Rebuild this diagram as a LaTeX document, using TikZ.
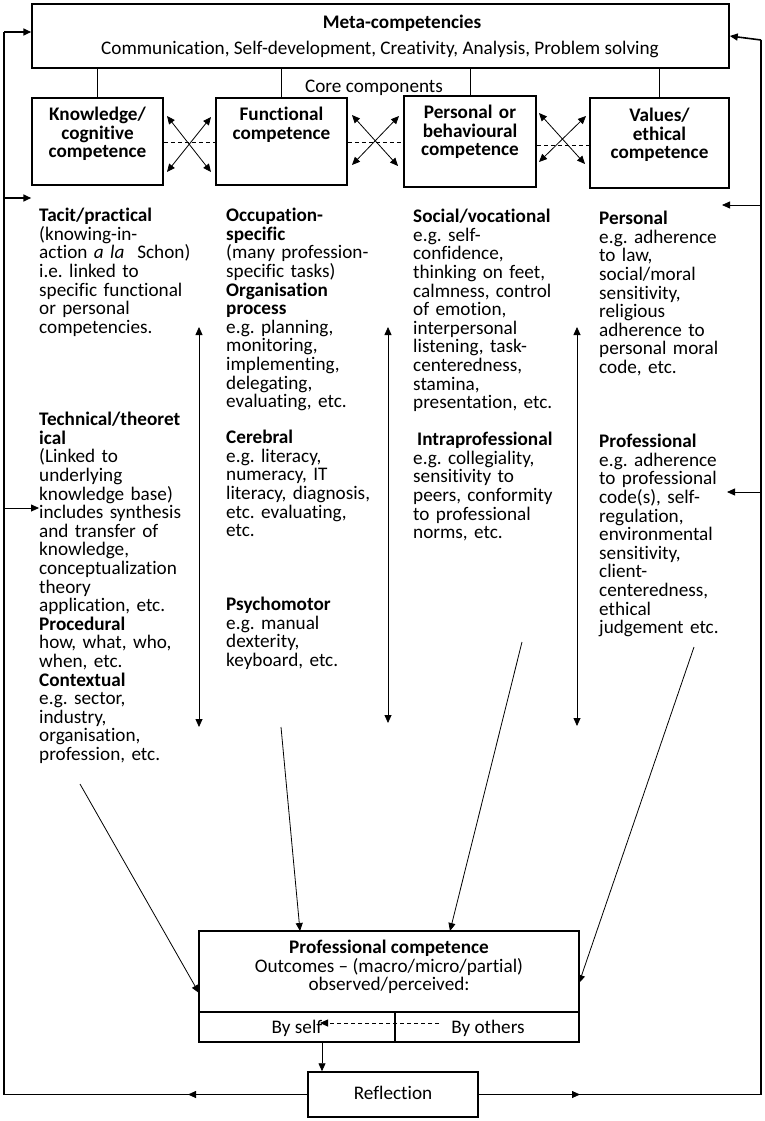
\documentclass[tikz,border=0pt]{standalone}
\usepackage{fontspec}
\setmainfont{Carlito}[Ligatures=NoCommon]
\usetikzlibrary{arrows.meta}
\newcommand\dfont{\fontsize{19.2}{18.6}\selectfont\lineskiplimit=-30pt\frenchspacing\relax}
\begin{document}
\begin{tikzpicture}[x=1pt,y=-1pt,
  >={Triangle[length=8pt,width=7pt]},
  box/.style={draw, line width=1.5pt, inner sep=0pt},
  fb/.style={line width=1.6pt},
  conn/.style={line width=0.8pt},
  dsh/.style={line width=0.8pt, dash pattern=on 4pt off 3pt},
  txt/.style={font=\dfont, inner sep=0pt, align=left, anchor=north west, text width=#1},
  coretxt/.style={font=\dfont\bfseries, inner sep=0pt, align=center, anchor=north, text width=138pt},
  lbl/.style={font=\dfont, inner sep=0pt, anchor=base}]
\useasboundingbox (0,0) rectangle (765,1121);

% top box
\node[box, minimum width=697pt, minimum height=64pt] (meta) at (380.5,36) {};
\node[lbl, font=\dfont\bfseries] (mtitle) at (402,29) {Meta-competencies};
\node[lbl] (mlist) at (380,55) {Communication, Self-development, Creativity, Analysis, Problem solving};
\node[lbl] (core) at (374,93) {Core components};

% core boxes
\node[box, minimum width=131pt, minimum height=87pt] (kn) at (97.5,141.5) {};
\node[box, minimum width=131pt, minimum height=87pt] (fc) at (281.5,141.5) {};
\node[box, minimum width=132pt, minimum height=91pt] (pb) at (470,141.5) {};
\node[box, minimum width=139pt, minimum height=90pt] (ve) at (659.5,143) {};
\node[coretxt] (knt) at (97.5,107) {\strut Knowledge/\\cognitive\\competence};
\node[coretxt] (fct) at (281.5,107) {\strut Functional\\competence};
\node[coretxt] (pbt) at (470,105) {\strut Personal or\\behavioural\\competence};
\node[coretxt] (vet) at (659.5,108) {\strut Values/\\ethical\\competence};

\foreach \n in {kn,fc,pb,ve}{\draw[conn] (\n.north) -- (\n.north |- meta.south);}

% crossed arrows and dashed links
\coordinate (a1) at (167,116); \coordinate (a2) at (211,172);
\coordinate (a3) at (211,117); \coordinate (a4) at (167,172);
\draw[conn,<->] (a1) -- (a2); \draw[conn,<->] (a3) -- (a4);
\draw[dsh] (kn.east |- 0,142) -- (fc.west |- 0,142);
\coordinate (b1) at (352,115); \coordinate (b2) at (398,166);
\coordinate (b3) at (399,116); \coordinate (b4) at (352,165);
\draw[conn,<->] (b1) -- (b2); \draw[conn,<->] (b3) -- (b4);
\draw[dsh] (fc.east |- 0,142) -- (pb.west |- 0,142);
\coordinate (e1) at (539,113); \coordinate (e2) at (585,164);
\coordinate (e3) at (586,116); \coordinate (e4) at (539,162);
\draw[conn,<->] (e1) -- (e2); \draw[conn,<->] (e3) -- (e4);
\draw[dsh] (pb.east |- 0,145) -- (ve.west |- 0,145);

% column texts
\node[txt=170pt] (c1a) at (39,208) {\strut\textbf{Tacit/practical}\\(knowing-in-\\action \textit{a la}\ \ Schon)\\i.e. linked to\\specific functional\\or personal\\competencies.};
\node[txt=170pt] (c1b) at (39,412) {\strut\textbf{Technical/theoret}\\\textbf{ical}\\(Linked to\\underlying\\knowledge base)\\includes synthesis\\and transfer of\\knowledge,\\conceptualization\\theory\\application, etc.\\\textbf{Procedural}\\how, what, who,\\when, etc.\\\textbf{Contextual}\\e.g. sector,\\industry,\\organisation,\\profession, etc.};
\node[txt=170pt] (c2a) at (226,208) {\strut\textbf{Occupation-}\\\textbf{specific}\\(many profession-\\specific tasks)\\\textbf{Organisation}\\\textbf{process}\\e.g. planning,\\monitoring,\\implementing,\\delegating,\\evaluating, etc.};
\node[txt=170pt] (c2b) at (226,430) {\strut\textbf{Cerebral}\\e.g. literacy,\\numeracy, IT\\literacy, diagnosis,\\etc. evaluating,\\etc.};
\node[txt=170pt] (c2c) at (226,597) {\strut\textbf{Psychomotor}\\e.g. manual\\dexterity,\\keyboard, etc.};
\node[txt=170pt] (c3a) at (413,209) {\strut\textbf{Social/vocational}\\e.g. self-\\confidence,\\thinking on feet,\\calmness, control\\of emotion,\\interpersonal\\listening, task-\\centeredness,\\stamina,\\presentation, etc.};
\node[txt=170pt] (c3b) at (413,432) {\strut\hspace*{4pt}\textbf{Intraprofessional}\\e.g. collegiality,\\sensitivity to\\peers, conformity\\to professional\\norms, etc.};
\node[txt=160pt] (c4a) at (599,211) {\strut\textbf{Personal}\\e.g. adherence\\to law,\\social/moral\\sensitivity,\\religious\\adherence to\\personal moral\\code, etc.};
\node[txt=160pt] (c4b) at (599,434) {\strut\textbf{Professional}\\e.g. adherence\\to professional\\code(s), self-\\regulation,\\environmental\\sensitivity,\\client-\\centeredness,\\ethical\\judgement etc.};

% vertical double arrows
\coordinate (v1t) at (199,327); \coordinate (v1b) at (199,727);
\coordinate (v2t) at (388,327); \coordinate (v2b) at (388,723);
\coordinate (v3t) at (577,327); \coordinate (v3b) at (577,726);
\draw[conn,<->] (v1t) -- (v1b);
\draw[conn,<->] (v2t) -- (v2b);
\draw[conn,<->] (v3t) -- (v3b);

% bottom boxes
\node[box, minimum width=380pt, minimum height=81pt] (pc) at (389,971.5) {};
\node[font=\dfont, inner sep=0pt, align=center, anchor=north] (pct) at (389,940) {\strut\textbf{Professional competence}\\Outcomes -- (macro/micro/partial)\\observed/perceived:};
\node[box, minimum width=196pt, minimum height=30pt] (bs) at (297,1027) {};
\node[box, minimum width=184pt, minimum height=30pt] (bo) at (487,1027) {};
\node[lbl] (bst) at (297,1033) {By self};
\node[lbl] (bot) at (488,1033) {By others};
\node[box, minimum width=170pt, minimum height=45pt] (refl) at (393,1094.5) {};
\node[lbl] (reflt) at (393,1099) {Reflection};

\coordinate (ds) at (439,1023); \coordinate (de) at (320,1023);
\draw[dsh,->] (ds) -- (de);
\coordinate (bsr) at (322,1042);
\draw[conn,->] (bsr) -- (bsr |- refl.north);

% diagonal arrows into professional competence
\coordinate (d1s) at (80,784);  \coordinate (d1e) at (199,993);
\coordinate (d2s) at (281,727); \coordinate (d2e) at (300,931);
\coordinate (d3s) at (522,642); \coordinate (d3e) at (450,931);
\coordinate (d4s) at (694,647); \coordinate (d4e) at (579,983);
\draw[conn,->] (d1s) -- (d1e);
\draw[conn,->] (d2s) -- (d2e);
\draw[conn,->] (d3s) -- (d3e);
\draw[conn,->] (d4s) -- (d4e);

% feedback loops
\coordinate (L1) at (4,32); \coordinate (L2) at (4,198); \coordinate (L3) at (4,508);
\coordinate (LB) at (4,1094.5); \coordinate (lmid) at (188,1094.5);
\draw[fb] (refl.west) -- (LB) -- (L1);
\draw[fb,->] (L1) -- (meta.west |- L1);
\draw[fb,->] (L2) -- (kn.west |- L2);
\draw[conn,->] (L3) -- (c1b.west |- L3);
\draw[conn,->] (refl.west) -- (lmid);

\coordinate (R1) at (761,40); \coordinate (R2) at (761,205); \coordinate (R3) at (761,492);
\coordinate (RB) at (761,1094.5); \coordinate (rmid) at (580,1094.5);
\coordinate (R2t) at (722,205); \coordinate (R3t) at (727,492);
\draw[fb] (refl.east) -- (RB) -- (R1);
\draw[fb,->] (R1) -- (meta.east);
\draw[conn,->] (R2) -- (R2t);
\draw[conn,->] (R3) -- (R3t);
\draw[conn,->] (refl.east) -- (rmid);
\end{tikzpicture}
\end{document}
